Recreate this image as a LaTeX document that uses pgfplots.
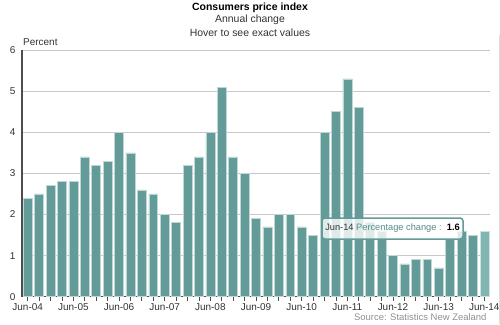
\documentclass[border=0pt]{standalone}
\usepackage{pgfplots}
\pgfplotsset{compat=1.18}
\usepackage{fontspec}
\setmainfont{Liberation Sans}
\definecolor{barc}{HTML}{629B97}
\definecolor{barh}{HTML}{80B5B1}
\definecolor{gridc}{HTML}{C8C8C8}
\definecolor{axc}{HTML}{4D4D4D}
\definecolor{txt}{HTML}{333333}
\definecolor{src}{HTML}{909090}
\pgfplotstableread{
x y
0 2.4
1 2.5
2 2.7
3 2.8
4 2.8
5 3.4
6 3.2
7 3.3
8 4.0
9 3.5
10 2.6
11 2.5
12 2.0
13 1.8
14 3.2
15 3.4
16 4.0
17 5.1
18 3.4
19 3.0
20 1.9
21 1.7
22 2.0
23 2.0
24 1.7
25 1.5
26 4.0
27 4.5
28 5.3
29 4.6
30 1.8
31 1.6
32 1.0
33 0.8
34 0.9
35 0.9
36 0.7
37 1.4
38 1.6
39 1.5
}\cpi
\pgfplotstableread{
x y
40 1.6
}\cpilast
\begin{document}
\begin{tikzpicture}[x=1bp,y=1bp]
\path[use as bounding box] (0,0) rectangle (500,324);
\begin{axis}[
  at={(22bp,27.3bp)}, anchor=south west,
  scale only axis, width=468bp, height=246.7bp,
  xmin=-0.5, xmax=40.5, ymin=0, ymax=6,
  ytick={0,...,6},
  xtick={0,...,40},
  xticklabels={Jun-04,,,,Jun-05,,,,Jun-06,,,,Jun-07,,,,Jun-08,,,,Jun-09,,,,Jun-10,,,,Jun-11,,,,Jun-12,,,,Jun-13,,,,Jun-14},
  ymajorgrids, grid style={gridc, line width=1bp},
  axis x line*=bottom, axis y line*=left,
  x axis line style={axc, line width=1.3bp, -},
  y axis line style={axc, line width=2bp, -},
  xtick style={axc, line width=0.8bp},
  ytick style={draw=none},
  tick align=outside, major tick length=4bp,
  /pgf/number format/assume math mode=true,
  tick label style={font=\fontsize{10}{12}\selectfont, text=txt},
  xticklabel style={yshift=1bp},
  yticklabel style={xshift=1bp},
  clip=false,
]
\addplot[ybar, bar width=8.9bp, bar shift=0pt, fill=barc, draw=white!60!barc, line width=0.5bp] table[x=x,y=y]{\cpi};
\addplot[ybar, bar width=8.9bp, bar shift=0pt, fill=barh, draw=white!60!barh, line width=0.5bp] table[x=x,y=y]{\cpilast};
\node[anchor=south west, inner sep=0pt, font=\fontsize{10}{12}\selectfont, text=txt] at (rel axis cs:0,1) [xshift=1bp, yshift=4bp] {Percent};
\end{axis}
\node[font=\fontsize{10.5}{13}\selectfont\bfseries, text=black] at (250,316) {Consumers price index};
\node[font=\fontsize{10.5}{13}\selectfont, text=txt] at (250,304) {Annual change};
\node[font=\fontsize{10.5}{13}\selectfont, text=txt] at (250,291) {Hover to see exact values};
\node[anchor=east, font=\fontsize{9.5}{11}\selectfont, text=src] at (490,7) {Source: Statistics New Zealand};
\draw[gridc!60, line width=0.8bp] (499.5,0) -- (499.5,289);
\node[draw=barc, line width=1.5bp, fill=white, fill opacity=0.8, text opacity=1, rounded corners=3bp, minimum width=141bp, minimum height=21bp, inner sep=0pt, font=\fontsize{9.3}{11}\selectfont] at (392.5,95.5) {\textcolor{txt}{Jun-14} \textcolor{barc!90!black}{Percentage change :}\ \ \textbf{1.6}};
\end{tikzpicture}
\end{document}
